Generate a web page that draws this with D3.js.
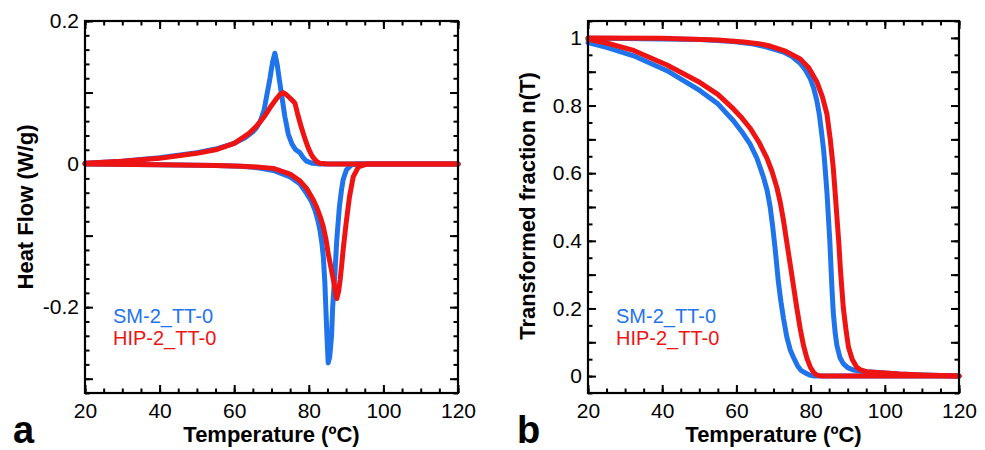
<!DOCTYPE html>
<html>
<head>
<meta charset="utf-8">
<script src="https://cdn.jsdelivr.net/npm/d3@7"></script>
<style>
body { margin: 0; background: #fff; }
text { font-family: "Liberation Sans", Arial, sans-serif; }
</style>
</head>
<body>
<script>
// panel a: DSC heat flow (W/g) vs temperature, [T, value]
var smCooling = [[20,0.001],[30,0.004],[40,0.009],[50,0.016],[55,0.021],[60,0.029],[63,0.037],[65,0.045],[66,0.051],[67,0.06],[68,0.075],[68.7,0.095],[69.6,0.12],[70.3,0.143],[70.9,0.155],[71.5,0.14],[72.1,0.118],[72.7,0.097],[73.6,0.066],[74.5,0.042],[75.5,0.028],[76.5,0.02],[77.6,0.016],[78.5,0.009],[79.4,0.004],[81,0.001],[83,0],[120,0]];
var hipCooling = [[20,0.001],[30,0.004],[40,0.008],[50,0.015],[55,0.02],[60,0.029],[64,0.043],[66,0.053],[68,0.066],[69.5,0.078],[71,0.089],[72.2,0.097],[73.1,0.1],[74,0.097],[75,0.092],[75.8,0.088],[76.3,0.085],[77,0.07],[77.8,0.055],[78.5,0.043],[79.2,0.032],[79.9,0.022],[80.6,0.014],[81.2,0.009],[82,0.004],[83,0.001],[85,0],[120,0]];
var smHeating = [[20,0],[40,-0.001],[55,-0.002],[61.6,-0.003],[66,-0.005],[70.5,-0.009],[75,-0.018],[77.5,-0.027],[79.4,-0.041],[80.7,-0.052],[81.7,-0.065],[82.5,-0.08],[83,-0.093],[83.5,-0.11],[83.9,-0.13],[84.3,-0.165],[84.6,-0.205],[84.9,-0.245],[85.2,-0.278],[85.6,-0.27],[86.1,-0.24],[86.4,-0.2],[87,-0.153],[87.5,-0.106],[88.2,-0.06],[88.8,-0.035],[89.2,-0.022],[90.1,-0.008],[91.5,-0.001],[93,0],[120,0]];
var hipHeating = [[20,0],[40,-0.001],[55,-0.002],[62,-0.003],[66,-0.004],[70.5,-0.006],[75,-0.014],[77.5,-0.023],[79.4,-0.034],[81,-0.048],[82.1,-0.06],[83.1,-0.074],[83.9,-0.088],[84.6,-0.105],[85.2,-0.125],[86,-0.146],[86.6,-0.162],[87.1,-0.178],[87.5,-0.188],[88,-0.178],[88.4,-0.162],[88.8,-0.142],[89.2,-0.12],[90,-0.083],[90.9,-0.046],[91.9,-0.018],[93.3,-0.004],[95.5,0],[120,0]];

// panel b: transformed fraction n(T), [T, value]
var smFracCooling = [[20,0.986],[25,0.972],[32.3,0.947],[41.3,0.903],[50.2,0.844],[55,0.805],[59.2,0.755],[61.5,0.722],[63.7,0.686],[65.5,0.645],[67.3,0.588],[68.3,0.548],[69.1,0.5],[69.8,0.44],[70.4,0.381],[71.3,0.28],[72,0.22],[72.7,0.17],[73.6,0.115],[74.5,0.078],[75.4,0.055],[76.5,0.03],[77.5,0.016],[79,0.007],[80,0.002],[81,0],[120,0]];
var hipFracCooling = [[20,0.996],[25,0.985],[32.3,0.963],[41.3,0.92],[50.2,0.868],[55,0.833],[59.2,0.79],[61.5,0.763],[63.7,0.733],[66,0.693],[68.2,0.645],[69.6,0.605],[70.9,0.558],[71.8,0.515],[72.7,0.46],[73.6,0.395],[74.5,0.33],[75.4,0.265],[76.3,0.2],[77.2,0.14],[78.1,0.09],[79,0.053],[79.9,0.027],[80.8,0.011],[81.7,0.003],[83,0],[120,0]];
var smFracHeating = [[20,0.999],[30,0.998],[40,0.997],[50.2,0.995],[59.2,0.989],[64,0.983],[68.2,0.973],[72.7,0.958],[75,0.945],[77.2,0.925],[78.6,0.905],[79.9,0.88],[80.8,0.853],[81.7,0.814],[82.4,0.77],[83,0.716],[83.5,0.67],[83.9,0.617],[84.4,0.545],[84.8,0.47],[85.2,0.395],[85.5,0.322],[85.8,0.25],[86.1,0.19],[86.6,0.13],[87.1,0.09],[87.9,0.055],[88.8,0.037],[90,0.025],[91.5,0.018],[95.1,0.013],[100,0.009],[104,0.006],[110,0.003],[120,0]];
var hipFracHeating = [[20,1],[40,0.999],[55,0.994],[62,0.988],[66,0.983],[69.1,0.976],[73,0.962],[77.2,0.938],[79.5,0.912],[81.7,0.87],[83.2,0.825],[84.4,0.775],[85.3,0.7],[86.1,0.617],[86.6,0.545],[87.1,0.47],[87.6,0.395],[88,0.322],[88.4,0.262],[88.8,0.204],[89.5,0.14],[90.2,0.086],[91.2,0.05],[92.4,0.027],[93.5,0.018],[95.1,0.013],[100,0.009],[104,0.006],[110,0.003],[120,0]];

var legendNames = ["SM-2_TT-0", "HIP-2_TT-0"];
var xMajorTicks = [20, 40, 60, 80, 100, 120];
var yTicksA = [0.2, 0, -0.2];
var yTicksB = [0, 0.2, 0.4, 0.6, 0.8, 1];

var blue = "#1f74ec";
var red = "#ee1414";

var svg = d3.select("body")
			.append("svg")
			.attr("width", 985)
			.attr("height", 450);

function range(a, b, step){
	var out = [];
	for (var i = 0; a + i*step <= b + 1e-9; i++) out.push(+(a + i*step).toFixed(4));
	return out;
}

function panel(left, right, top, bottom, yDomain, yMajorStep, yMinorStep, yLabels, series, xTitle, yTitle, letter){
	var xScale = d3.scaleLinear().domain([20, 120]).range([left, right]);
	var yScale = d3.scaleLinear().domain(yDomain).range([bottom, top]);

	var xMinor = range(20, 120, 5);
	var yMinor = range(Math.ceil(yDomain[0]/yMinorStep)*yMinorStep, yDomain[1], yMinorStep);
	var yMajor = range(Math.ceil(yDomain[0]/yMajorStep)*yMajorStep, yDomain[1], yMajorStep);

	// ticks, pointing inward on all four sides
	function ticks(axis, vals, size, tr){
		svg.append("g")
			.attr("transform", tr)
			.call(axis.tickValues(vals).tickSize(-size).tickFormat(""))
			.call(g => g.select(".domain").remove())
			.selectAll("line").attr("stroke", "#000").attr("stroke-width", 2);
	}
	ticks(d3.axisBottom(xScale), xMinor, 4.5, "translate(0," + bottom + ")");
	ticks(d3.axisBottom(xScale), xMajorTicks, 8, "translate(0," + bottom + ")");
	ticks(d3.axisTop(xScale), xMinor, 4.5, "translate(0," + top + ")");
	ticks(d3.axisTop(xScale), xMajorTicks, 8, "translate(0," + top + ")");
	ticks(d3.axisLeft(yScale), yMinor, 4.5, "translate(" + left + ",0)");
	ticks(d3.axisLeft(yScale), yMajor, 8, "translate(" + left + ",0)");
	ticks(d3.axisRight(yScale), yMinor, 4.5, "translate(" + right + ",0)");
	ticks(d3.axisRight(yScale), yMajor, 8, "translate(" + right + ",0)");

	// tick labels
	svg.append("g")
		.attr("transform", "translate(0," + bottom + ")")
		.call(d3.axisBottom(xScale).tickValues(xMajorTicks).tickSize(0).tickPadding(10).tickFormat(d3.format("d")))
		.call(g => g.select(".domain").remove())
		.selectAll("text").attr("font-size", 21).attr("fill", "#000")
		.style("font-family", "'Liberation Sans', Arial, sans-serif");
	svg.append("g")
		.attr("transform", "translate(" + (left - 1) + ",0)")
		.call(d3.axisLeft(yScale).tickValues(yLabels).tickSize(0).tickPadding(5).tickFormat(d => d === 0 ? "0" : String(d)))
		.call(g => g.select(".domain").remove())
		.selectAll("text").attr("font-size", 21).attr("fill", "#000")
		.style("font-family", "'Liberation Sans', Arial, sans-serif");

	// curves
	var line = d3.line().x(d => xScale(d[0])).y(d => yScale(d[1]));
	series.forEach(function(s){
		svg.append("path")
			.datum(s.data)
			.attr("d", line)
			.attr("fill", "none")
			.attr("stroke", s.color)
			.attr("stroke-width", 5)
			.attr("stroke-linejoin", "round")
			.attr("stroke-linecap", "round");
	});

	// frame
	svg.append("rect")
		.attr("x", left).attr("y", top)
		.attr("width", right - left).attr("height", bottom - top)
		.attr("fill", "none").attr("stroke", "#000").attr("stroke-width", 2.2);

	// legend
	svg.append("text").attr("x", left + 28).attr("y", 323)
		.text(legendNames[0]).attr("font-size", 20).attr("fill", blue);
	svg.append("text").attr("x", left + 28).attr("y", 345)
		.text(legendNames[1]).attr("font-size", 20).attr("fill", red);

	// titles
	svg.append("text")
		.attr("x", (left + right)/2).attr("y", 442)
		.text(xTitle)
		.attr("text-anchor", "middle")
		.attr("font-size", 22).attr("font-weight", "bold");
	svg.append("text")
		.attr("transform", "translate(" + yTitle.x + "," + yTitle.y + ") rotate(-90)")
		.text(yTitle.text)
		.attr("text-anchor", "middle")
		.attr("font-size", 22).attr("font-weight", "bold");
	svg.append("text")
		.attr("x", letter.x).attr("y", 443)
		.text(letter.text)
		.attr("font-size", 38).attr("font-weight", "bold");
}

panel(85, 458, 21, 393, [-0.32, 0.2], 0.1, 0.02, yTicksA,
	[{data: smCooling, color: blue}, {data: smHeating, color: blue},
	 {data: hipCooling, color: red}, {data: hipHeating, color: red}],
	"Temperature (ºC)", {x: 33, y: 207, text: "Heat Flow (W/g)"}, {x: 13, text: "a"});

panel(588, 959, 21, 393, [-0.05, 1.05], 0.1, 0.05, yTicksB,
	[{data: smFracCooling, color: blue}, {data: smFracHeating, color: blue},
	 {data: hipFracCooling, color: red}, {data: hipFracHeating, color: red}],
	"Temperature (ºC)", {x: 535, y: 206, text: "Transformed fraction n(T)"}, {x: 517, text: "b"});
</script>
</body>
</html>
